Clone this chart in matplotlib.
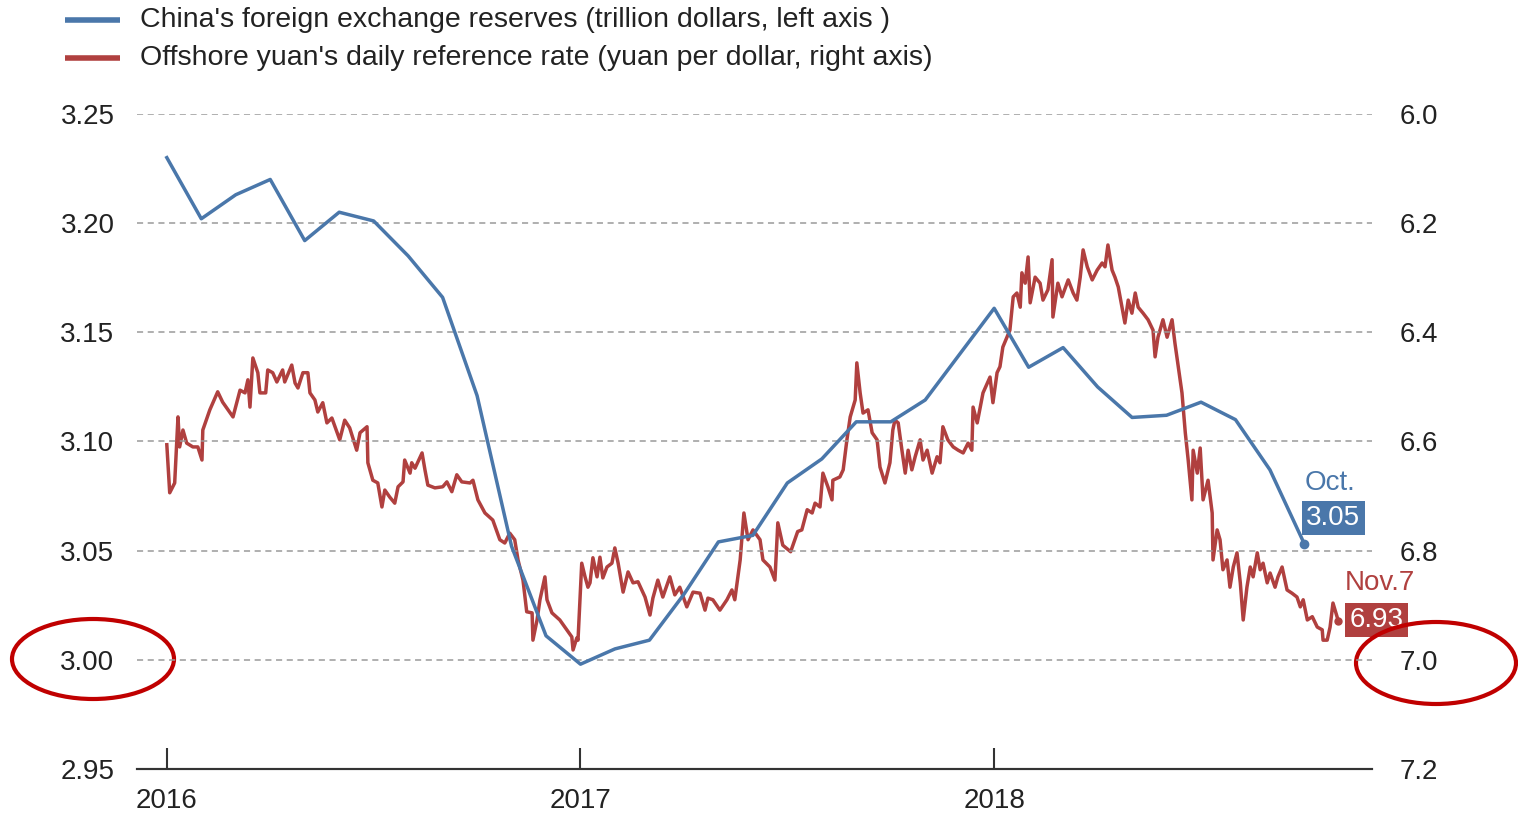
import numpy as np
import matplotlib
matplotlib.use("Agg")
import matplotlib.pyplot as plt
from matplotlib.lines import Line2D
from matplotlib.patches import Ellipse

plt.rcParams['font.family'] = ['Liberation Sans', 'DejaVu Sans']

# China's FX reserves, trillion dollars, monthly Jan 2016 .. Oct 2018
reserves = [3.230, 3.202, 3.213, 3.220, 3.192, 3.205, 3.201, 3.185, 3.166, 3.121,
            3.052, 3.011, 2.998, 3.005, 3.009, 3.030, 3.054, 3.057, 3.081, 3.092,
            3.109, 3.109, 3.119, 3.140, 3.161, 3.134, 3.143, 3.125, 3.111, 3.112,
            3.118, 3.110, 3.087, 3.053]
reserves_year = 2016 + np.arange(len(reserves)) / 12

# offshore yuan per dollar (years since start of 2016, value)
cnh_t = [0.000, 0.007, 0.019, 0.027, 0.031, 0.039, 0.048, 0.063, 0.075, 0.085,
         0.087, 0.104, 0.123, 0.135, 0.160, 0.177, 0.189, 0.196, 0.201, 0.208,
         0.220, 0.225, 0.239, 0.244, 0.256, 0.266, 0.280, 0.285, 0.302, 0.310,
         0.317, 0.329, 0.341, 0.346, 0.358, 0.365, 0.377, 0.387, 0.399, 0.418,
         0.430, 0.442, 0.459, 0.467, 0.484, 0.486, 0.498, 0.510,
         0.520, 0.527, 0.539, 0.551, 0.559, 0.571, 0.575, 0.588, 0.592, 0.600,
         0.617, 0.624, 0.631, 0.648, 0.667, 0.677, 0.689, 0.701, 0.713, 0.733,
         0.740, 0.752, 0.769, 0.788, 0.805, 0.817, 0.829, 0.841, 0.849, 0.861,
         0.870, 0.883, 0.885, 0.895, 0.902, 0.914, 0.919, 0.931, 0.950, 0.967,
         0.979, 0.982, 0.991, 0.994, 1.003, 1.011, 1.018,
         1.023, 1.030, 1.040, 1.047, 1.054, 1.064, 1.076, 1.083, 1.091, 1.103,
         1.115, 1.127, 1.139, 1.156, 1.168, 1.175, 1.187, 1.199, 1.216, 1.228,
         1.240, 1.257, 1.272, 1.289, 1.301, 1.308, 1.320, 1.337, 1.354, 1.366,
         1.373, 1.386, 1.395, 1.405, 1.417, 1.434, 1.441, 1.458, 1.470, 1.477,
         1.489, 1.508, 1.525,
         1.535, 1.548, 1.560, 1.567, 1.579, 1.586, 1.598, 1.608, 1.610, 1.627,
         1.635, 1.644, 1.652, 1.664, 1.668, 1.676, 1.683, 1.695, 1.705, 1.717,
         1.724, 1.736, 1.748, 1.755, 1.760, 1.768, 1.777, 1.785, 1.792, 1.801,
         1.809, 1.821, 1.828, 1.838, 1.850, 1.862, 1.869, 1.876, 1.888, 1.901,
         1.913, 1.925, 1.937, 1.946, 1.949, 1.959, 1.973, 1.990, 1.997, 2.007,
         2.014,
         2.021, 2.031, 2.038, 2.046, 2.055, 2.063, 2.067, 2.075, 2.082, 2.087,
         2.099, 2.111, 2.118, 2.130, 2.140, 2.142, 2.154, 2.164, 2.179, 2.191,
         2.200, 2.208, 2.215, 2.225, 2.237, 2.249, 2.261, 2.268, 2.275, 2.285,
         2.292, 2.300, 2.309, 2.316, 2.324, 2.333, 2.341, 2.348, 2.360, 2.372,
         2.384, 2.389, 2.396, 2.408, 2.418, 2.430, 2.437, 2.445, 2.454, 2.462,
         2.469, 2.478, 2.481, 2.491, 2.498, 2.505, 2.517, 2.527, 2.529, 2.539,
         2.546, 2.553, 2.563, 2.570, 2.578, 2.587, 2.595, 2.602, 2.611, 2.619,
         2.626, 2.636, 2.643, 2.650, 2.660, 2.667, 2.679, 2.686, 2.696, 2.708,
         2.720, 2.732, 2.740, 2.747, 2.757, 2.769, 2.781, 2.793, 2.795, 2.805,
         2.812, 2.819, 2.829, 2.832]
cnh = [6.606, 6.694, 6.676, 6.555, 6.610, 6.579, 6.603, 6.610, 6.610, 6.634,
       6.579, 6.542, 6.509, 6.528, 6.555, 6.506, 6.511, 6.487, 6.537, 6.447,
       6.474, 6.511, 6.511, 6.469, 6.474, 6.491, 6.469, 6.491, 6.460, 6.493,
       6.502, 6.474, 6.474, 6.511, 6.524, 6.546, 6.529, 6.566, 6.557, 6.597,
       6.561, 6.575, 6.616, 6.584, 6.573, 6.639, 6.671, 6.676,
       6.720, 6.689, 6.702, 6.713, 6.683, 6.674, 6.634, 6.658, 6.639, 6.649,
       6.621, 6.652, 6.680, 6.685, 6.683, 6.674, 6.692, 6.661, 6.674, 6.676,
       6.671, 6.707, 6.731, 6.744, 6.780, 6.786, 6.768, 6.780, 6.817, 6.854,
       6.912, 6.914, 6.964, 6.927, 6.890, 6.848, 6.890, 6.914, 6.927, 6.945,
       6.958, 6.982, 6.960, 6.964, 6.823, 6.848, 6.867,
       6.859, 6.813, 6.848, 6.812, 6.850, 6.830, 6.823, 6.795, 6.823, 6.876,
       6.839, 6.859, 6.857, 6.885, 6.918, 6.887, 6.854, 6.885, 6.848, 6.881,
       6.867, 6.903, 6.876, 6.878, 6.909, 6.887, 6.890, 6.909, 6.890, 6.872,
       6.890, 6.817, 6.731, 6.780, 6.762, 6.780, 6.817, 6.830, 6.854, 6.749,
       6.790, 6.802, 6.765,
       6.762, 6.725, 6.731, 6.713, 6.720, 6.658, 6.683, 6.707, 6.671, 6.665,
       6.652, 6.597, 6.555, 6.524, 6.456, 6.511, 6.548, 6.542, 6.584, 6.597,
       6.647, 6.676, 6.639, 6.579, 6.561, 6.566, 6.616, 6.658, 6.616, 6.652,
       6.628, 6.597, 6.634, 6.616, 6.658, 6.628, 6.639, 6.573, 6.597, 6.610,
       6.616, 6.621, 6.603, 6.616, 6.537, 6.566, 6.511, 6.482, 6.529, 6.474,
       6.463,
       6.427, 6.409, 6.396, 6.335, 6.328, 6.354, 6.291, 6.310, 6.262, 6.346,
       6.299, 6.310, 6.341, 6.322, 6.267, 6.372, 6.310, 6.335, 6.304, 6.328,
       6.341, 6.299, 6.249, 6.280, 6.304, 6.286, 6.273, 6.280, 6.240, 6.286,
       6.299, 6.317, 6.354, 6.383, 6.341, 6.365, 6.328, 6.354, 6.365, 6.377,
       6.396, 6.445, 6.409, 6.377, 6.409, 6.377, 6.420, 6.463, 6.511, 6.584,
       6.634, 6.707, 6.616, 6.658, 6.612, 6.707, 6.671, 6.731, 6.817, 6.762,
       6.780, 6.835, 6.817, 6.867, 6.830, 6.804, 6.859, 6.927, 6.867, 6.830,
       6.848, 6.804, 6.835, 6.823, 6.859, 6.841, 6.867, 6.848, 6.830, 6.872,
       6.878, 6.885, 6.903, 6.890, 6.927, 6.921, 6.940, 6.945, 6.964, 6.964,
       6.940, 6.896, 6.921, 6.929]
cnh_year = 2016 + np.array(cnh_t)

blue = '#4a77aa'
red = '#b0403f'
txt = '#222222'
circle = '#c00000'

fig = plt.figure(figsize=(15.18, 8.14), dpi=100)
ax = fig.add_axes([0.090, 0.0553, 0.814, 0.8047])
ax2 = ax.twinx()

ax.set_xlim(2015.927, 2018.914)
ax.set_ylim(2.95, 3.25)
ax2.set_ylim(7.2, 6.0)

for v in [3.00, 3.05, 3.10, 3.15, 3.20, 3.25]:
    ax.axhline(v, color='#9a9a9a', lw=1.1, ls=(0, (4, 3)), zorder=0)

ax2.plot(cnh_year, cnh, color=red, lw=2.5, zorder=2)
ax2.plot(cnh_year[-1], cnh[-1], 'o', color=red, ms=5, zorder=3)
ax.plot(reserves_year, reserves, color=blue, lw=2.5, zorder=3)
ax.plot(reserves_year[-1], reserves[-1], 'o', color=blue, ms=6, zorder=4)
ax.set_zorder(ax2.get_zorder() + 1)
ax.patch.set_visible(False)

ax.set_yticks([2.95, 3.00, 3.05, 3.10, 3.15, 3.20, 3.25])
ax.set_yticklabels(['%.2f' % v for v in [2.95, 3.00, 3.05, 3.10, 3.15, 3.20, 3.25]])
ax2.set_yticks([6.0, 6.2, 6.4, 6.6, 6.8, 7.0, 7.2])
ax2.set_yticklabels(['%.1f' % v for v in [6.0, 6.2, 6.4, 6.6, 6.8, 7.0, 7.2]])
ax.set_xticks([2016, 2017, 2018])
ax.set_xticklabels(['2016', '2017', '2018'])

for a in (ax, ax2):
    for s in ['top', 'left', 'right']:
        a.spines[s].set_visible(False)
    a.spines['bottom'].set_color('#333333')
    a.spines['bottom'].set_linewidth(1.5)
ax.tick_params(axis='y', length=0, pad=16, labelsize=20, labelcolor=txt)
ax2.tick_params(axis='y', length=0, pad=20, labelsize=20, labelcolor=txt)
ax.tick_params(axis='x', direction='in', length=15, width=1.5, color='#333333',
               pad=14, labelsize=20, labelcolor=txt)

# end labels
ax.text(2018.813, 3.081, 'Oct.', color=blue, fontsize=20, ha='center', va='center')
ax.text(2018.820, 3.065, '3.05', color='white', fontsize=20, ha='center', va='center',
        bbox=dict(boxstyle='square,pad=0.15', fc=blue, ec='none'))
ax2.text(2018.933, 6.859, 'Nov.7', color=red, fontsize=20, ha='center', va='center',
         clip_on=False)
ax2.text(2018.924, 6.927, '6.93', color='white', fontsize=20, ha='center', va='center',
         bbox=dict(boxstyle='square,pad=0.15', fc=red, ec='none'), clip_on=False)

# legend
for yy, col, lab in [(0.9754, blue, "China's foreign exchange reserves (trillion dollars, left axis )"),
                     (0.9287, red, "Offshore yuan's daily reference rate (yuan per dollar, right axis)")]:
    fig.add_artist(Line2D([0.043, 0.079], [yy, yy], color=col, lw=4, solid_capstyle='butt'))
    fig.text(0.092, yy, lab, fontsize=20.5, color=txt, va='center', ha='left')

# highlight circles
fig.add_artist(Ellipse((93 / 1518, 1 - 659 / 814), 162 / 1518, 80 / 814,
                       transform=fig.transFigure, fill=False, ec=circle, lw=3))
fig.add_artist(Ellipse((1436 / 1518, 1 - 663 / 814), 160 / 1518, 82 / 814,
                       transform=fig.transFigure, fill=False, ec=circle, lw=3))

fig.savefig('out.png', dpi=100)
